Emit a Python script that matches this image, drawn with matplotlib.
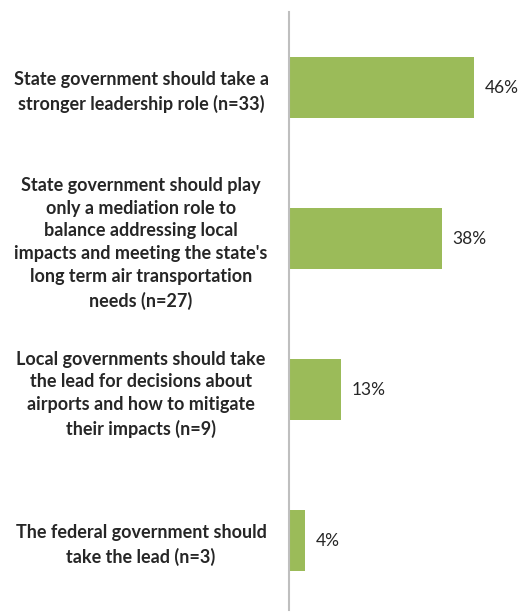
import matplotlib.pyplot as plt

categories = [
    "State government should take a\nstronger leadership role (n=33)",
    "State government should play\nonly a mediation role to\nbalance addressing local\nimpacts and meeting the state's\nlong term air transportation\nneeds (n=27)",
    "Local governments should take\nthe lead for decisions about\nairports and how to mitigate\ntheir impacts (n=9)",
    "The federal government should\ntake the lead (n=3)",
]
percents = [46, 38, 13, 4]

bar_color = "#9BBB59"
text_color = "#262626"

fig = plt.figure(figsize=(5.23, 6.13), dpi=100)
ax = fig.add_axes([289 / 523, 3 / 613, 201 / 523, 598 / 613])

ypos = list(range(len(categories)))
ax.barh(ypos, percents, height=0.4, color=bar_color)

ax.set_xlim(0, 50)
ax.set_ylim(3.46, -0.5)

for y, p in zip(ypos, percents):
    ax.text(p + 2.7, y, f"{p}%", va="center", ha="left",
            fontsize=12.5, family="Lato", color=text_color)

ax.set_yticks(ypos)
ax.set_yticklabels(categories, ha="center", fontsize=13, family="Lato",
                   fontweight="bold", color=text_color, linespacing=1.42)
ax.tick_params(axis="y", length=0, pad=148 * 72 / 100)
ax.set_xticks([])

for side in ["top", "right", "bottom"]:
    ax.spines[side].set_visible(False)
ax.spines["left"].set_color("#BFBFBF")
ax.spines["left"].set_linewidth(1.5)

fig.savefig("out.png", dpi=100)
